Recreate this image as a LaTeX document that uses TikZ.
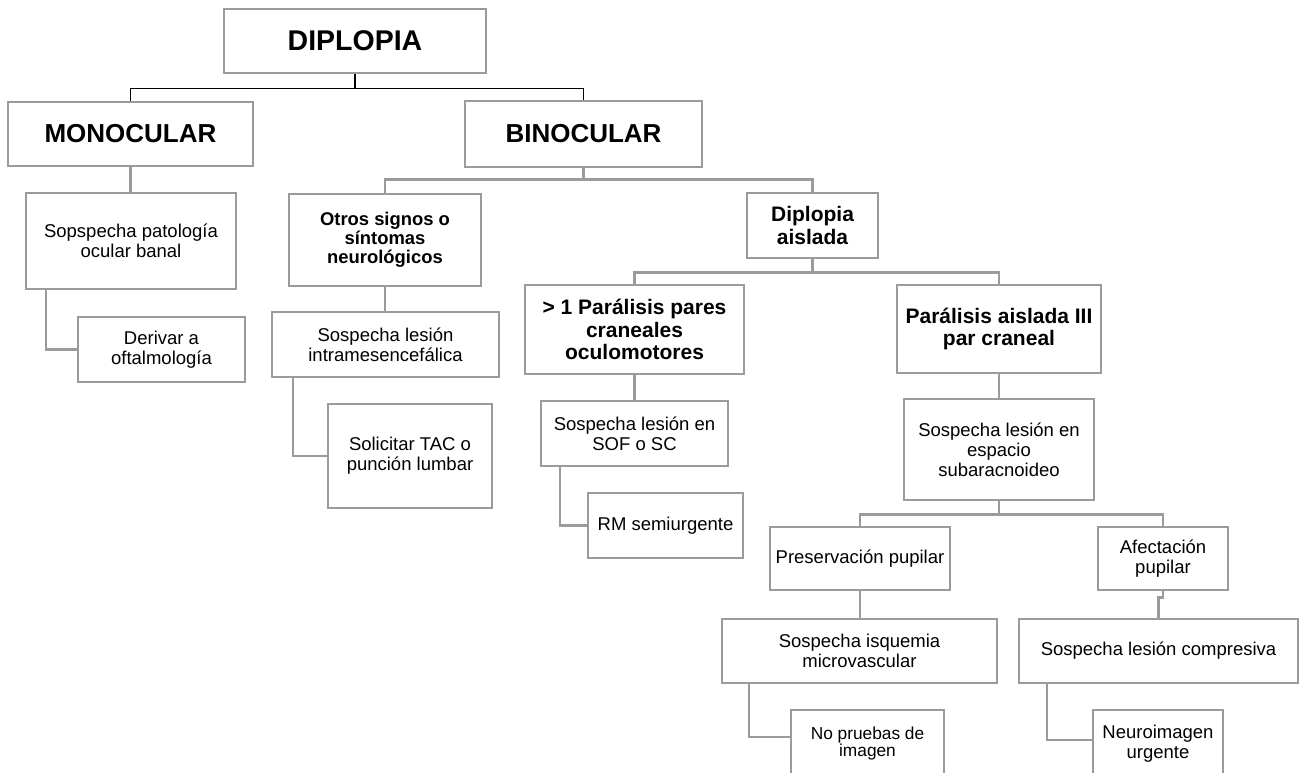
\documentclass[tikz,border=0pt]{standalone}
\usepackage{fontspec}
\setmainfont{Liberation Sans}
\usetikzlibrary{calc}
\definecolor{boxgray}{RGB}{155,155,155}
\newcommand\fBig{\fontsize{28.5}{30}\selectfont\bfseries}
\newcommand\fMid{\fontsize{26}{28}\selectfont\bfseries}
\newcommand\fBmed{\fontsize{21}{22.5}\selectfont\bfseries}
\newcommand\fBsm{\fontsize{18.4}{19}\selectfont\bfseries}
\newcommand\fReg{\fontsize{18.5}{20}\selectfont}
\newcommand\fSm{\fontsize{17.3}{17.5}\selectfont}
\begin{document}
\begin{tikzpicture}[x=1pt,y=-1pt,
  bx/.style={draw=boxgray, line width=2.5pt, fill=white, inner sep=1pt, align=center, font=\fReg},
  conn/.style={draw=boxgray, line width=2.5pt},
  blk/.style={draw=black, line width=1.4pt}]
\useasboundingbox (0,0) rectangle (1306,773);
\clip (0,0) rectangle (1306,773);
\fill[white] (0,0) rectangle (1306,773);

% nodes
\node[bx, minimum width=262pt, minimum height=64pt, font=\fBig] (dip) at (355,41) {DIPLOPIA};
\node[bx, minimum width=245pt, minimum height=64pt, font=\fMid] (mono) at (130.5,134) {MONOCULAR};
\node[bx, minimum width=237pt, minimum height=66pt, font=\fMid] (bino) at (583.5,134) {BINOCULAR};

\node[bx, minimum width=210pt, minimum height=96pt] (sop) at (131,241) {Sopspecha patología\\ocular banal};
\node[bx, minimum width=167pt, minimum height=65pt] (der) at (161.5,349.5) {Derivar a\\oftalmología};

\node[bx, minimum width=192pt, minimum height=92pt, font=\fBsm] (otros) at (385,240) {Otros signos o\\síntomas\\neurológicos};
\node[bx, minimum width=227pt, minimum height=65pt] (intra) at (385.5,344.5) {Sospecha lesión\\intramesencefálica};
\node[bx, minimum width=164pt, minimum height=104pt] (sol) at (410,456) {Solicitar TAC o\\punción lumbar};

\node[bx, minimum width=131pt, minimum height=65pt, font=\fBmed] (aisl) at (812.5,225.5) {Diplopia\\aislada};
\node[bx, minimum width=219pt, minimum height=89pt, font=\fBmed] (mult) at (634.5,329.5) {> 1 Parálisis pares\\craneales\\oculomotores};
\node[bx, minimum width=204pt, minimum height=88pt, font=\fBmed] (par) at (999,329) {Parálisis aislada III\\par craneal};

\node[bx, minimum width=187pt, minimum height=65pt] (sof) at (634.5,433.5) {Sospecha lesión en\\SOF o SC};
\node[bx, minimum width=155pt, minimum height=65pt] (rm) at (665.5,525.5) {RM semiurgente};

\node[bx, minimum width=190pt, minimum height=101pt] (sub) at (999,449.5) {Sospecha lesión en\\espacio\\subaracnoideo};
\node[bx, minimum width=180pt, minimum height=63pt, inner sep=0pt] (pres) at (860,558.5) {Preservación pupilar};
\node[bx, minimum width=130pt, minimum height=63pt] (afec) at (1163,558.5) {Afectación\\pupilar};

\node[bx, minimum width=275pt, minimum height=64pt] (isq) at (859.5,651) {Sospecha isquemia\\microvascular};
\node[bx, minimum width=279pt, minimum height=64pt] (comp) at (1158.5,651) {Sospecha lesión compresiva};

\node[bx, minimum width=153pt, minimum height=67pt, font=\fSm] (nop) at (867.5,743.5) {No pruebas de\\imagen};
\node[bx, minimum width=130pt, minimum height=67pt] (neu) at (1158,743.5) {Neuroimagen\\urgente};

% connectors
\draw[blk] (dip.south) -- ++(0,14) -| (mono.north);
\draw[blk] (dip.south) -- ++(0,14) -| (bino.north);

\draw[conn] (bino.south) -- ++(0,11) -| (otros.north);
\draw[conn] (bino.south) -- ++(0,11) -| (aisl.north);

\draw[conn] (mono.south) -- (mono.south |- sop.north);
\draw[conn] ($(sop.south west)+(21,0)$) |- (der.west);

\draw[conn] (otros.south) -- (otros.south |- intra.north);
\draw[conn] ($(intra.south west)+(22,0)$) |- (sol.west);

\draw[conn] (aisl.south) -- ++(0,13) -| (mult.north);
\draw[conn] (aisl.south) -- ++(0,13) -| (par.north);

\draw[conn] (mult.south) -- (mult.south |- sof.north);
\draw[conn] ($(sof.south west)+(20,0)$) |- (rm.west);

\draw[conn] (par.south) -- (par.south |- sub.north);
\draw[conn] (sub.south) -- ++(0,13) -| (pres.north);
\draw[conn] (sub.south) -- ++(0,13) -| (afec.north);

\draw[conn] (pres.south) -- (pres.south |- isq.north);
\draw[conn] ($(isq.south west)+(28,0)$) |- ($(nop.north west)+(0,28)$);

\draw[conn] (afec.south) -- ++(0,6) -| (comp.north);
\draw[conn] ($(comp.south west)+(29,0)$) |- ($(neu.north west)+(0,31)$);
\end{tikzpicture}
\end{document}
